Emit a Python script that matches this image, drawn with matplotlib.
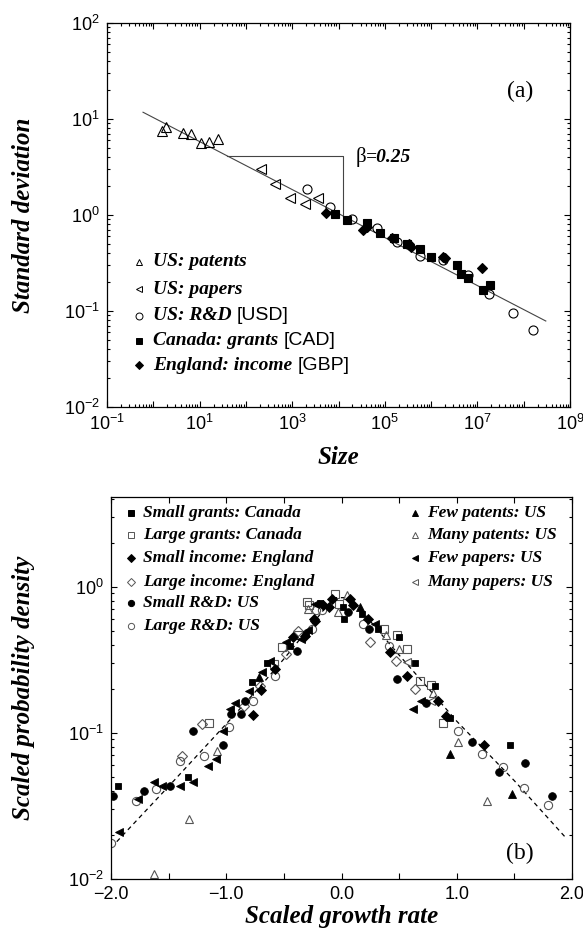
import numpy as np
import matplotlib
matplotlib.use("Agg")
import matplotlib.pyplot as plt
from matplotlib.ticker import LogLocator, FuncFormatter, NullFormatter, MultipleLocator

plt.rcParams['font.family'] = 'Liberation Sans'
plt.rcParams['mathtext.fontset'] = 'custom'
plt.rcParams['mathtext.rm'] = 'Liberation Sans'

SERIF_BI = dict(family='Liberation Serif', weight='bold', style='italic')
GREY = '#555555'

# ---- (a) standard deviation of growth rates vs size ----
patents_size = [1.52, 1.88, 4.45, 6.4, 10.6, 16.2, 24.6]
patents_sd = [7.55, 8.2, 7.1, 6.9, 5.6, 5.7, 6.15]

papers_size = [212, 425, 918, 1920, 3600]
papers_sd = [2.99, 2.10, 1.49, 1.30, 1.50]

rd_size = [2090, 6400, 2.0e4, 6.7e4, 1.8e5, 5.75e5, 1.78e6, 6.4e6, 1.8e7, 6.0e7, 1.6e8]
rd_sd = [1.85, 1.20, 0.90, 0.726, 0.527, 0.374, 0.34, 0.237, 0.150, 0.096, 0.064]

grants_size = [8600, 1.53e4, 4.07e4, 7.87e4, 1.58e5, 2.97e5, 5.75e5, 9.95e5,
               3.7e6, 4.36e6, 6.4e6, 1.87e7, 1.34e7]
grants_sd = [1.02, 0.887, 0.82, 0.655, 0.572, 0.495, 0.44, 0.362,
             0.30, 0.243, 0.219, 0.187, 0.166]

income_size = [5370, 3.44e4, 4.07e4, 1.41e5, 3.38e5, 3.68e5, 1.78e6, 2.0e6, 1.28e7]
income_sd = [1.06, 0.698, 0.745, 0.572, 0.50, 0.467, 0.368, 0.354, 0.279]

beta = 0.25
fit_amp = 10 ** 1.015
fit_range = [0.6, 3.0e8]
slope_box = [40, 1.26e4]

legend_a = [
    ('^', 'none', 'US: patents', ''),
    ('<', 'none', 'US: papers', ''),
    ('o', 'none', 'US: R&D', '[USD]'),
    ('s', 'k', 'Canada: grants', '[CAD]'),
    ('D', 'k', 'England: income', '[GBP]'),
]

# ---- (b) scaled growth-rate distributions ----
sg_x = [-1.94, -1.33, -0.78, -0.65, -0.45, -0.31, -0.19, 0.01, 0.02, 0.18,
        0.32, 0.50, 0.64, 0.81, 0.94, 1.46]
sg_y = [0.043, 0.050, 0.223, 0.299, 0.395, 0.475, 0.776, 0.725, 0.603, 0.652,
        0.515, 0.451, 0.299, 0.210, 0.127, 0.082]

lg_x = [-1.15, -0.59, -0.52, -0.38, -0.30, -0.28, -0.06, -0.02, 0.37, 0.48,
        0.57, 0.68, 0.78, 0.88]
lg_y = [0.117, 0.296, 0.385, 0.468, 0.785, 0.752, 0.895, 0.764, 0.515, 0.468,
        0.375, 0.227, 0.212, 0.117]

si_x = [-0.77, -0.70, -0.58, -0.42, -0.32, -0.24, -0.23, -0.16, -0.11, -0.08,
        0.07, 0.10, 0.23, 0.42, 0.57, 0.84, 0.91, 1.24]
si_y = [0.133, 0.197, 0.273, 0.451, 0.458, 0.596, 0.586, 0.744, 0.725, 0.818,
        0.827, 0.752, 0.603, 0.356, 0.246, 0.166, 0.130, 0.083]

li_x = [-1.38, -1.21, -0.85, -0.71, -0.48, -0.38, 0.25, 0.47, 0.64]
li_y = [0.069, 0.114, 0.153, 0.210, 0.347, 0.493, 0.417, 0.308, 0.199]

sr_x = [-1.98, -1.71, -1.49, -1.29, -1.03, -0.96, -0.87, -0.84, -0.39, 0.06,
        0.24, 0.48, 0.73, 1.13, 1.37, 1.59, 1.83]
sr_y = [0.037, 0.040, 0.043, 0.103, 0.083, 0.134, 0.134, 0.166, 0.365, 0.669,
        0.515, 0.233, 0.161, 0.086, 0.054, 0.062, 0.037]

lr_x = [-2.00, -1.78, -1.61, -1.40, -1.19, -0.98, -0.77, -0.58, -0.26, -0.22,
        -0.17, 0.19, 0.41, 1.01, 1.22, 1.40, 1.58, 1.79]
lr_y = [0.0175, 0.034, 0.041, 0.064, 0.069, 0.110, 0.166, 0.246, 0.515, 0.687,
        0.687, 0.557, 0.395, 0.103, 0.072, 0.058, 0.042, 0.032]

fpat_x = [-0.72, 0.16, 0.94, 1.48]
fpat_y = [0.239, 0.725, 0.072, 0.038]

mpat_x = [-1.63, -1.32, -1.08, -0.29, -0.03, 0.05, 0.39, 0.50, 0.79, 1.01, 1.26]
mpat_y = [0.0108, 0.0256, 0.075, 0.70, 0.669, 0.871, 0.463, 0.375, 0.187, 0.086, 0.034]

fpap_x = [-1.93, -1.77, -1.63, -1.56, -1.40, -1.29, -1.16, -1.09, -1.03, -0.97,
          -0.92, -0.80, -0.69, -0.62, -0.48, -0.35, -0.29, -0.23, 0.29, 0.62, 0.69]
fpap_y = [0.021, 0.035, 0.046, 0.043, 0.043, 0.046, 0.059, 0.066, 0.103, 0.145,
          0.160, 0.194, 0.259, 0.312, 0.417, 0.439, 0.501, 0.764, 0.557, 0.145, 0.166]

mpap_x = [0.57, 0.78]
mpap_y = [0.303, 0.166]

theory_x = [-1.95, -1.5, -1.0, -0.7, -0.5, -0.3, -0.15, -0.05, 0.05, 0.15, 0.3,
            0.5, 0.7, 1.0, 1.5, 1.95]
theory_y = [0.018, 0.043, 0.115, 0.21, 0.32, 0.50, 0.70, 0.84, 0.84, 0.72, 0.52,
            0.34, 0.225, 0.12, 0.047, 0.019]

series_b = [
    (sg_x, sg_y, 's', True, 'Small grants: Canada'),
    (lg_x, lg_y, 's', False, 'Large grants: Canada'),
    (si_x, si_y, 'D', True, 'Small income: England'),
    (li_x, li_y, 'D', False, 'Large income: England'),
    (sr_x, sr_y, 'o', True, 'Small R&D: US'),
    (lr_x, lr_y, 'o', False, 'Large R&D: US'),
    (fpat_x, fpat_y, '^', True, 'Few patents: US'),
    (mpat_x, mpat_y, '^', False, 'Many patents: US'),
    (fpap_x, fpap_y, '<', True, 'Few papers: US'),
    (mpap_x, mpap_y, '<', False, 'Many papers: US'),
]
# marker sizes (pt) per shape in panel b
size_b = {'s': 4.8, 'D': 4.6, 'o': 5.5, '^': 5.8, '<': 5.8}


def pow10(v, pos):
    e = int(round(np.log10(v)))
    return r'$\mathregular{10^{%d}}$' % e


def style_axes(ax):
    for s in ax.spines.values():
        s.set_linewidth(0.9)
    ax.tick_params(which='both', direction='in', top=True, right=True,
                   labelsize=13, width=0.8)
    ax.tick_params(which='major', length=4.5, pad=5)
    ax.tick_params(which='minor', length=2.5)


fig = plt.figure(figsize=(5.83, 9.30), dpi=100)
W, H = 583, 930

# ------------------------------------------------------------------ panel a
ax = fig.add_axes([107 / W, 1 - 407 / H, 463 / W, 384 / H])
ax.set_xscale('log')
ax.set_yscale('log')
ax.set_xlim(0.1, 1e9)
ax.set_ylim(0.01, 100)

fx = np.array(fit_range)
ax.plot(fx, fit_amp * fx ** -beta, color='#444444', lw=0.8, zorder=1)
y_top = fit_amp * slope_box[0] ** -beta
ax.plot([slope_box[0], slope_box[1], slope_box[1]],
        [y_top, y_top, fit_amp * slope_box[1] ** -beta],
        color='#444444', lw=0.8, zorder=1)

ms_kw = dict(ls='none', mec='k', mew=0.8)
ax.plot(patents_size, patents_sd, marker='^', mfc='none', ms=7, **ms_kw)
ax.plot(papers_size, papers_sd, marker='<', mfc='none', ms=7, **ms_kw)
ax.plot(rd_size, rd_sd, marker='o', mfc='none', ms=6.5, **ms_kw)
ax.plot(grants_size, grants_sd, marker='s', mfc='k', ms=5.5, **ms_kw)
ax.plot(income_size, income_sd, marker='D', mfc='k', ms=5, **ms_kw)

ax.xaxis.set_major_locator(LogLocator(base=10, numticks=20))
ax.xaxis.set_minor_locator(LogLocator(base=10, subs=np.arange(2, 10), numticks=20))
ax.xaxis.set_major_formatter(FuncFormatter(
    lambda v, p: pow10(v, p) if int(round(np.log10(v))) % 2 else ''))
ax.xaxis.set_minor_formatter(NullFormatter())
ax.yaxis.set_major_locator(LogLocator(base=10, numticks=10))
ax.yaxis.set_minor_locator(LogLocator(base=10, subs=np.arange(2, 10), numticks=10))
ax.yaxis.set_major_formatter(FuncFormatter(pow10))
ax.yaxis.set_minor_formatter(NullFormatter())
style_axes(ax)

t = ax.text(10 ** 4.36, 10 ** 0.60, 'β', fontsize=15, family='Liberation Serif',
            va='center', ha='left')
ax.annotate('=0.25', xy=(1, 0.5), xycoords=t, xytext=(0, 0),
            textcoords='offset points', va='center', ha='left',
            fontsize=14, **SERIF_BI)
ax.text(0.892, 0.823, '(a)', transform=ax.transAxes, fontsize=17,
        family='Liberation Serif', ha='center', va='center')

row_y = [0.378, 0.307, 0.238, 0.173, 0.109]
for (mk, fc, label, unit), y in zip(legend_a, row_y):
    ax.plot([0.069], [y], transform=ax.transAxes, marker=mk, mfc=fc,
            mec='k', mew=0.7, ms=5 if mk != 'D' else 4.3, ls='none')
    lab = ax.text(0.099, y, label, transform=ax.transAxes, va='center',
                  ha='left', fontsize=14, **SERIF_BI)
    if unit:
        ax.annotate(unit, xy=(1, 0.5), xycoords=lab, xytext=(4, 0),
                    textcoords='offset points', va='center', ha='left',
                    fontsize=14)

fig.text(24 / W, 1 - 215 / H, 'Standard deviation', rotation=90,
         ha='center', va='center', fontsize=18, **SERIF_BI)
fig.text((107 + 570) / 2 / W, 1 - 457 / H, 'Size', ha='center', va='center',
         fontsize=18, **SERIF_BI)

# ------------------------------------------------------------------ panel b
bx = fig.add_axes([111 / W, 1 - 879 / H, 461 / W, 382 / H])
bx.set_yscale('log')
bx.set_xlim(-2, 2)
bx.set_ylim(0.01, 4.1)

bx.plot(theory_x, theory_y, color='k', lw=0.9, ls=(0, (3.5, 3)), zorder=1)
for xs, ys, mk, filled, _ in series_b:
    if filled:
        bx.plot(xs, ys, ls='none', marker=mk, ms=size_b[mk],
                mfc='k', mec='k', mew=0.6, zorder=3)
    else:
        bx.plot(xs, ys, ls='none', marker=mk, ms=size_b[mk] + 0.4,
                mfc='none', mec=GREY, mew=0.8, zorder=2)

bx.xaxis.set_major_locator(MultipleLocator(0.5))
bx.xaxis.set_major_formatter(FuncFormatter(
    lambda v, p: ('%.1f' % v).replace('-', '\u2212') if abs(v * 2) % 2 < 1e-6 else ''))
bx.yaxis.set_major_locator(LogLocator(base=10, numticks=10))
bx.yaxis.set_minor_locator(LogLocator(base=10, subs=np.arange(2, 10), numticks=10))
bx.yaxis.set_major_formatter(FuncFormatter(pow10))
bx.yaxis.set_minor_formatter(NullFormatter())
style_axes(bx)

rows_b = [0.958, 0.901, 0.840, 0.777, 0.723, 0.662]
cols_b = [(0.043, 0.069), (0.659, 0.685)]
for i, (_, _, mk, filled, label) in enumerate(series_b):
    if mk in ('^', '<'):
        col, row = 1, (i - 6)
    else:
        col, row = 0, i
    mx, tx = cols_b[col]
    y = rows_b[row]
    bx.plot([mx], [y], transform=bx.transAxes, marker=mk, ls='none',
            ms=4.5 if mk != 'D' else 3.8,
            mfc='k' if filled else 'none', mec='k' if filled else GREY, mew=0.7)
    bx.text(tx, y, label, transform=bx.transAxes, va='center', ha='left',
            fontsize=12.5, **SERIF_BI)

bx.text(0.887, 0.068, '(b)', transform=bx.transAxes, fontsize=17,
        family='Liberation Serif', ha='center', va='center')

fig.text(24 / W, 1 - 688 / H, 'Scaled probability density', rotation=90,
         ha='center', va='center', fontsize=18, **SERIF_BI)
fig.text((111 + 572) / 2 / W, 1 - 916 / H, 'Scaled growth rate', ha='center',
         va='center', fontsize=18, **SERIF_BI)

fig.savefig('out.png', dpi=100)
